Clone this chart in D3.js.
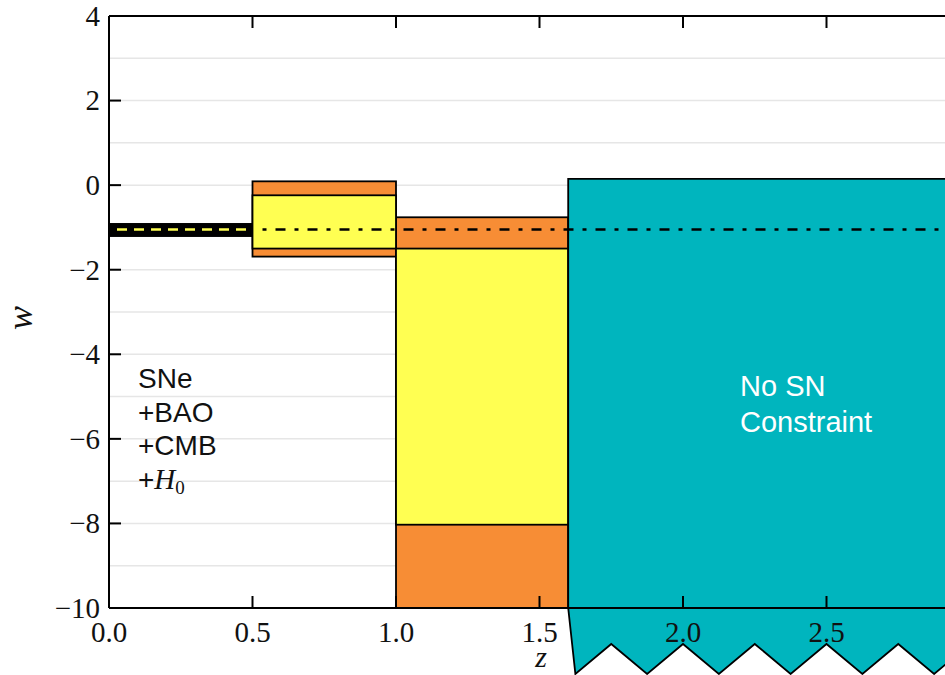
<!DOCTYPE html>
<html><head><meta charset="utf-8">
<script src="https://cdn.jsdelivr.net/npm/d3@7"></script>
<style>body{margin:0;background:#fff}svg{display:block}</style></head>
<body>
<svg id="c" width="945" height="675"></svg>
<script>
// ---- data ----
const xTicks = [0, 0.5, 1.0, 1.5, 2.0, 2.5];
const xTickLabels = ["0.0", "0.5", "1.0", "1.5", "2.0", "2.5"];
const yTicks = [-10, -8, -6, -4, -2, 0, 2, 4];
const yTickLabels = ["\u221210", "\u22128", "\u22126", "\u22124", "\u22122", "0", "2", "4"];
const gridW = [-9, -8, -7, -6, -5, -4, -3, -2, -1, 0, 1, 2, 3];

const binLo = [0.0, 0.5, 1.0];
const binHi = [0.5, 1.0, 1.6];
const outerTop = [-0.92, 0.09, -0.76];
const outerBottom = [-1.20, -1.69, -10.0];
const innerTop = [-0.92, -0.24, -1.50];
const innerBottom = [-1.20, -1.50, -8.03];

const noConstraintZ = [1.6, 3.0];
const noConstraintTop = 0.15;
const zigZ = [1.625, 1.75, 1.875, 2.0, 2.125, 2.25, 2.375, 2.5, 2.625, 2.75, 2.875, 3.0];
const zigW = [-11.56, -10.85, -11.56, -10.85, -11.56, -10.85, -11.56, -10.85, -11.56, -10.85, -11.56, -10.85];

const wLambda = -1.05;
const probeLabel = ["SNe", "+BAO", "+CMB"];
const noSNLabel = ["No SN", "Constraint"];

// ---- scales ----
const x = d3.scaleLinear().domain([0, 3]).range([109, 970]);
const y = d3.scaleLinear().domain([-10, 4]).range([608, 16]);

const ORANGE = "#f78d35", YELLOW = "#ffff52", TEAL = "#00b5be";
const svg = d3.select("#c");

// grid
svg.append("g").selectAll("line").data(gridW).join("line")
  .attr("x1", x(0)).attr("x2", x(3)).attr("y1", d => y(d)).attr("y2", d => y(d))
  .attr("stroke", "#e6e6e6").attr("stroke-width", 1.5);

// bins
const idx = d3.range(binLo.length);
const bg = svg.append("g");
bg.selectAll("rect.outer").data(idx).join("rect").attr("class", "outer")
  .attr("x", i => x(binLo[i])).attr("width", i => x(binHi[i]) - x(binLo[i]))
  .attr("y", i => y(outerTop[i])).attr("height", i => y(outerBottom[i]) - y(outerTop[i]))
  .attr("fill", i => i === 0 ? "#000" : ORANGE).attr("stroke", "#000").attr("stroke-width", 1.8);
bg.selectAll("rect.inner").data(idx).join("rect").attr("class", "inner")
  .attr("x", i => x(binLo[i])).attr("width", i => x(binHi[i]) - x(binLo[i]))
  .attr("y", i => y(innerTop[i])).attr("height", i => y(innerBottom[i]) - y(innerTop[i]))
  .attr("fill", i => i === 0 ? "#000" : YELLOW).attr("stroke", "#000").attr("stroke-width", 1.8);

// no-constraint region with zigzag bottom
const poly = [[noConstraintZ[0], noConstraintTop], [noConstraintZ[1], noConstraintTop]];
for (let i = zigZ.length - 1; i >= 0; i--) poly.push([zigZ[i], zigW[i]]);
poly.push([noConstraintZ[0], -10]);
svg.append("path")
  .attr("d", d3.line().x(d => x(d[0])).y(d => y(d[1]))(poly) + "Z")
  .attr("fill", TEAL).attr("stroke", "#000").attr("stroke-width", 1.8).attr("stroke-linejoin", "miter");

// w = -1 lines
svg.append("line").attr("x1", x(0) + 8).attr("x2", x(0.5)).attr("y1", y(wLambda)).attr("y2", y(wLambda))
  .attr("stroke", YELLOW).attr("stroke-width", 2.5).attr("stroke-dasharray", "10,7");
svg.append("line").attr("x1", x(0.5) + 10).attr("x2", x(3)).attr("y1", y(wLambda)).attr("y2", y(wLambda))
  .attr("stroke", "#000").attr("stroke-width", 2.5).attr("stroke-dasharray", "4,9,10,9");

// frame
const fr = svg.append("g").attr("stroke", "#000").attr("stroke-width", 2);
fr.append("line").attr("x1", x(0)).attr("x2", x(0)).attr("y1", y(4)).attr("y2", y(-10));
fr.append("line").attr("x1", x(0)).attr("x2", x(3)).attr("y1", y(4)).attr("y2", y(4));
fr.append("line").attr("x1", x(0)).attr("x2", x(3)).attr("y1", y(-10)).attr("y2", y(-10));

// ticks (inward)
const tk = svg.append("g").attr("stroke", "#000").attr("stroke-width", 2);
tk.selectAll("line.xb").data(xTicks).join("line").attr("class", "xb")
  .attr("x1", d => x(d)).attr("x2", d => x(d)).attr("y1", y(-10)).attr("y2", y(-10) - 12);
tk.selectAll("line.xt").data(xTicks).join("line").attr("class", "xt")
  .attr("x1", d => x(d)).attr("x2", d => x(d)).attr("y1", y(4)).attr("y2", y(4) + 12);
tk.selectAll("line.yl").data(yTicks).join("line").attr("class", "yl")
  .attr("x1", x(0)).attr("x2", x(0) + 12).attr("y1", d => y(d)).attr("y2", d => y(d));

// tick labels
const serif = "'Liberation Serif','DejaVu Serif',serif";
svg.append("g").selectAll("text").data(xTicks).join("text")
  .attr("x", d => x(d)).attr("y", y(-10) + 34).attr("text-anchor", "middle")
  .attr("font-family", serif).attr("font-size", 29).attr("fill", "#111")
  .text((d, i) => xTickLabels[i]);
svg.append("g").selectAll("text").data(yTicks).join("text")
  .attr("x", x(0) - 9).attr("y", d => y(d)).attr("dy", "0.34em").attr("text-anchor", "end")
  .attr("font-family", serif).attr("font-size", 29).attr("fill", "#111")
  .text((d, i) => yTickLabels[i]);

// axis labels
svg.append("text").attr("x", 541).attr("y", 667).attr("text-anchor", "middle")
  .attr("font-family", serif).attr("font-style", "italic").attr("font-size", 30).attr("fill", "#111").text("z");
svg.append("text").attr("transform", "translate(32,318) rotate(-90)").attr("text-anchor", "middle")
  .attr("font-family", serif).attr("font-style", "italic").attr("font-size", 36).attr("fill", "#111").text("w");

// annotations
const sans = "'Liberation Sans',Arial,sans-serif";
const ann = svg.append("g").attr("font-family", sans).attr("font-size", 28).attr("fill", "#111");
probeLabel.forEach((t, i) => ann.append("text").attr("x", 138).attr("y", 388 + i * 33.5).text(t));
const h0 = ann.append("text").attr("x", 138).attr("y", 388 + 3 * 33.5);
h0.append("tspan").text("+");
h0.append("tspan").attr("font-family", serif).attr("font-style", "italic").attr("font-size", 29).text("H");
h0.append("tspan").attr("font-family", serif).attr("font-size", 19).attr("dy", 5).text("0");

const ns = svg.append("g").attr("font-family", sans).attr("font-size", 29).attr("fill", "#fff");
noSNLabel.forEach((t, i) => ns.append("text").attr("x", 740).attr("y", 396 + i * 36).text(t));
</script>
</body></html>
